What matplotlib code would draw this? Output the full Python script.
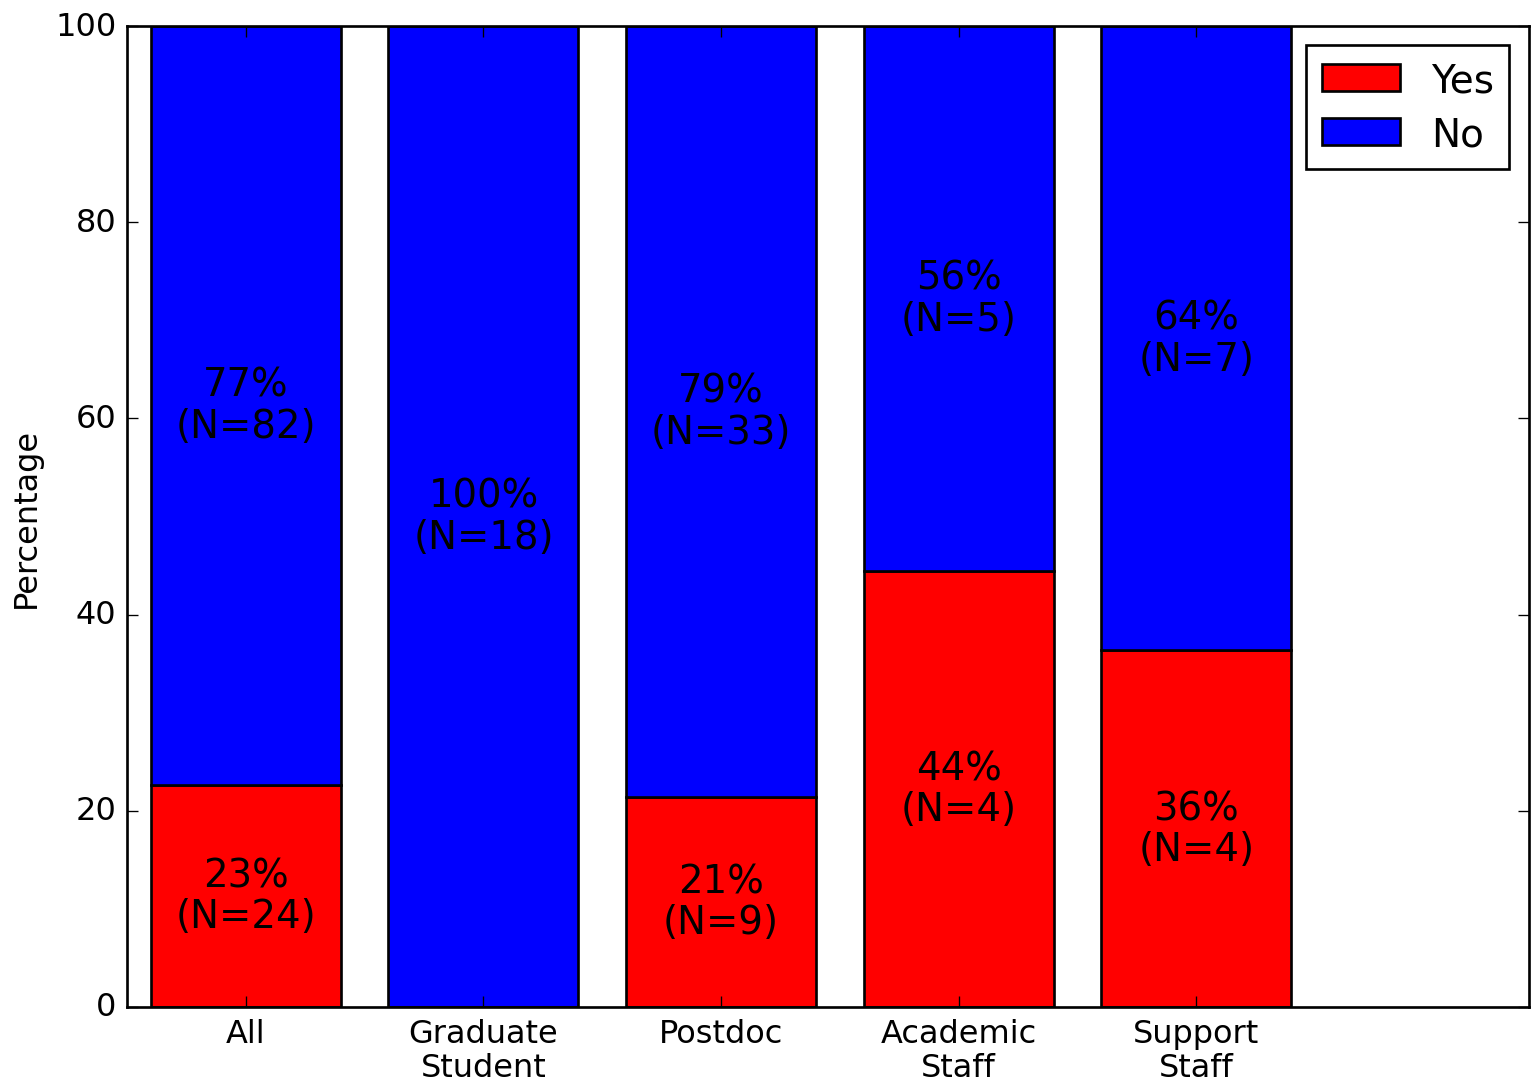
import matplotlib
matplotlib.use("Agg")
import matplotlib.pyplot as plt
import numpy as np

plt.style.use('classic')

groups = ["All", "Graduate\nStudent", "Postdoc", "Academic\nStaff", "Support\nStaff"]
yes_counts = [24, 0, 9, 4, 4]
no_counts = [82, 18, 33, 5, 7]

yes_counts = np.array(yes_counts)
no_counts = np.array(no_counts)
total = yes_counts + no_counts
yes_pct = 100.0 * yes_counts / total
no_pct = 100.0 * no_counts / total

fig = plt.figure(figsize=(8.0, 5.651), dpi=192)
fig.patch.set_facecolor('white')
ax = fig.add_axes([0.0827, 0.0710, 0.9127, 0.9041])

x = np.arange(len(groups))
ax.bar(x, yes_pct, 0.8, align='center', color='red', edgecolor='black', label='Yes')
ax.bar(x, no_pct, 0.8, bottom=yes_pct, align='center', color='blue', edgecolor='black', label='No')

# Beschriftung in der Mitte jedes Segments
for i in range(len(groups)):
	if yes_counts[i] > 0:
		ax.text(x[i], yes_pct[i] / 2, "%d%%\n(N=%d)" % (round(yes_pct[i]), yes_counts[i]),
				ha='center', va='center', fontsize=14.5, linespacing=1.1)
	if no_counts[i] > 0:
		ax.text(x[i], yes_pct[i] + no_pct[i] / 2, "%d%%\n(N=%d)" % (round(no_pct[i]), no_counts[i]),
				ha='center', va='center', fontsize=14.5, linespacing=1.1)

ax.set_xticks(x)
ax.set_xticklabels(groups, fontsize=12, linespacing=1.15)
ax.set_xlim(-0.5, 5.4)
ax.set_ylim(0, 100)
ax.tick_params(axis='y', labelsize=12)
ax.set_ylabel("Percentage", fontsize=12)

ax.legend(loc='upper right', fontsize=14.6, fancybox=False, labelspacing=0.42)

fig.savefig("out.png", dpi=192, facecolor='white')
